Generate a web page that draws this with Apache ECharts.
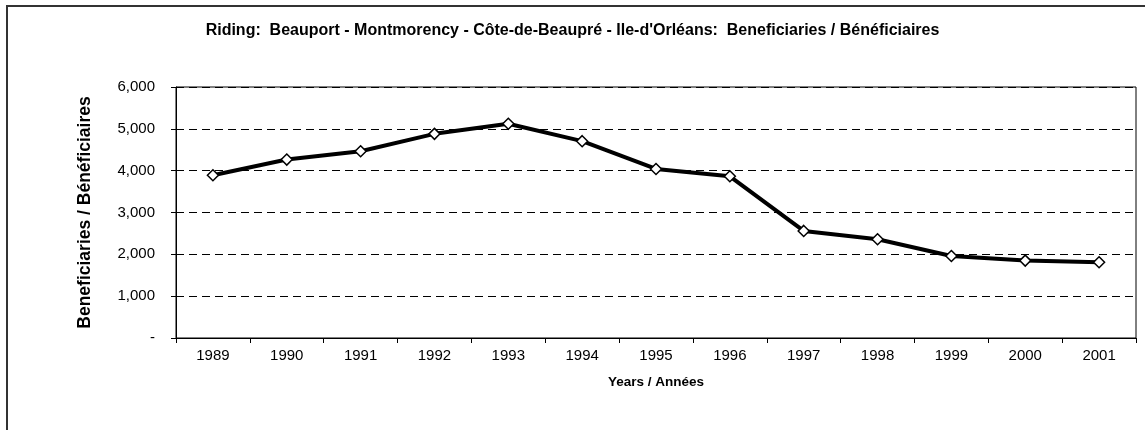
<!DOCTYPE html>
<html>
<head>
<meta charset="utf-8">
<script src="https://cdn.jsdelivr.net/npm/echarts@6/dist/echarts.min.js"></script>
<style>
html,body{margin:0;padding:0;background:#fff;}
#chart{width:1145px;height:430px;}
</style>
</head>
<body>
<div id="chart"></div>
<script>
const titleText = "Riding:  Beauport - Montmorency - Côte-de-Beaupré - Ile-d'Orléans:  Beneficiaries / Bénéficiaires";
const years = ['1989','1990','1991','1992','1993','1994','1995','1996','1997','1998','1999','2000','2001'];
const beneficiaries = [3890, 4265, 4465, 4880, 5120, 4705, 4040, 3865, 2560, 2360, 1960, 1850, 1810];
const yMin = 0, yMax = 6000, yStep = 1000;
const xName = 'Years / Années';
const yName = 'Beneficiaries / Bénéficiaires';

const chart = echarts.init(document.getElementById('chart'), null, {renderer:'canvas'});
const font = '"Liberation Sans", Arial, sans-serif';
chart.setOption({
  animation: false,
  backgroundColor: '#fff',
  title: {
    text: titleText,
    left: 'center',
    top: 18,
    textStyle: {fontFamily: font, fontSize: 16, fontWeight: 'bold', color: '#000'}
  },
  graphic: [{
    type: 'rect', silent: true,
    shape: {x: 7, y: 6, width: 2000, height: 1000},
    style: {fill: 'none', stroke: '#333', lineWidth: 2}
  }],
  grid: {left: 176, right: 9, top: 87, bottom: 92, show: true, borderColor: '#000', borderWidth: 1, backgroundColor: 'transparent'},
  xAxis: {
    type: 'category',
    data: years,
    boundaryGap: true,
    name: xName,
    nameLocation: 'middle',
    nameGap: 37,
    nameTextStyle: {fontFamily: font, fontSize: 13.5, fontWeight: 'bold', color: '#000'},
    axisLine: {lineStyle: {color: '#000', width: 1}},
    axisTick: {show: true, inside: false, length: 5, interval: 0, alignWithLabel: false, lineStyle: {color: '#000'}},
    axisLabel: {fontFamily: font, fontSize: 15, color: '#000', margin: 10, interval: 0},
    splitLine: {show: false}
  },
  yAxis: {
    type: 'value',
    min: yMin, max: yMax, interval: yStep,
    name: yName,
    nameLocation: 'middle',
    nameGap: 82,
    nameRotate: 90,
    nameTextStyle: {fontFamily: font, fontSize: 17.5, fontWeight: 'bold', color: '#000'},
    axisLine: {show: true, lineStyle: {color: '#000', width: 1}},
    axisTick: {show: true, inside: false, length: 5, lineStyle: {color: '#000'}},
    axisLabel: {fontFamily: font, fontSize: 15, color: '#000', margin: 21,
      formatter: v => v === 0 ? '-' : v.toLocaleString('en-US')},
    splitLine: {show: true, lineStyle: {color: '#000', type: [8, 5], width: 1}}
  },
  series: [{
    type: 'line',
    data: beneficiaries,
    symbol: 'diamond',
    symbolSize: 11,
    showAllSymbol: true,
    lineStyle: {color: '#000', width: 4},
    itemStyle: {color: '#fff', borderColor: '#000', borderWidth: 1.5},
    z: 3
  }]
});
</script>
</body>
</html>
